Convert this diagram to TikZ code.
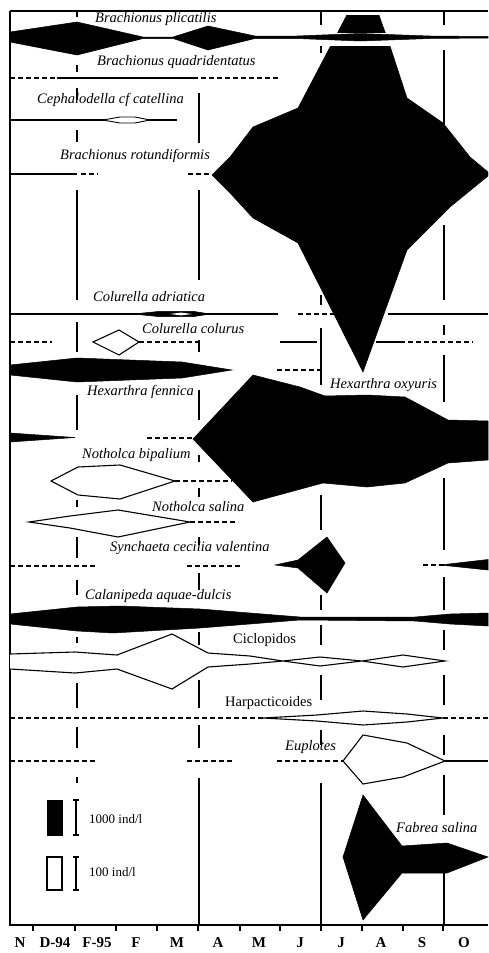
\documentclass[tikz,border=0pt]{standalone}
\usepackage{fontspec}
\setmainfont{Liberation Serif}
\begin{document}
\begin{tikzpicture}[x=1pt,y=-1pt,
  lbl/.style={font=\fontsize{14.5}{16}\selectfont\itshape, inner sep=0pt, anchor=west},
  ulbl/.style={font=\fontsize{14.5}{16}\selectfont, inner sep=0pt, anchor=west},
  leg/.style={font=\fontsize{13}{15}\selectfont, inner sep=0pt, anchor=west},
  mon/.style={font=\fontsize{15}{17}\selectfont\bfseries, inner sep=0pt},
  ln/.style={line width=1.2pt},
  dsh/.style={line width=1.2pt, dash pattern=on 5pt off 3pt},
  blk/.style={fill=black, draw=black, line width=0.5pt},
  wht/.style={fill=white, draw=black, line width=1.1pt, line join=miter},
  vseg/.style={line width=1.3pt}]
\useasboundingbox (0,0) rectangle (488,953);
\fill[white] (0,0) rectangle (488,953);

% axes and top border
\draw[ln] (10,11) -- (488,11);
\draw[ln] (10,11) -- (10,925) -- (488,925);
\foreach \x in {33,75,116,157,198,240,280,321,362,403,443}
  \draw[ln] (\x,925) -- (\x,931);

% month labels
\foreach \x/\m [count=\i] in {20/N,55/D-94,97/F-95,136/F,177/M,218/A,259/M,300/J,341/J,381/A,422/S,464/O}
  \node[mon] (m\i) at (\x,943) {\m};

% vertical broken month separators
\foreach \a/\b in {11/17,65/72,88/100,130/142,190/300,322/352,395/430,500/507,537/558,580/595,637/643,683/708,727/748,777/783}
  \draw[vseg] (77,\a) -- (77,\b);
\foreach \a/\b in {93/143,190/280,340/352,390/420,455/462,488/497,537/545,573/590,632/645,680/708,725/748,778/925}
  \draw[vseg] (199,\a) -- (199,\b);
\foreach \a/\b in {12/25,40/53,295/305,328/385,495/530,595/610,625/645,675/700,730/745,783/925}
  \draw[vseg] (321,\a) -- (321,\b);
\foreach \a/\b in {12/25,50/130,225/300,325/335,355/402,478/550,577/610,630/650,675/705,735/755,775/815,870/925}
  \draw[vseg] (444,\a) -- (444,\b);

% Brachionus rotundiformis (big shape), clipped at top
\begin{scope}
  \clip (0,15) rectangle (488,953);
  \fill[blk] (212,175) -- (230,157) -- (253,127) -- (298,108) -- (360,-10) -- (370,-10)
    -- (390,46) -- (407,98) -- (443,123) -- (470,157) -- (488,172) -- (488,176)
    -- (450,207) -- (407,250) -- (363,372) -- (298,243) -- (253,218) -- (230,193) -- cycle;
\end{scope}
\fill[white] (320,33) rectangle (400,46);

% Brachionus plicatilis
\fill[blk] (10,32) -- (77,22) -- (143,37) -- (173,37) -- (208,26) -- (255,36) -- (297,36)
  -- (360,33.5) -- (430,36) -- (488,36.5) -- (488,38) -- (430,38.5) -- (360,41) -- (297,38.5)
  -- (255,38.5) -- (208,50) -- (173,38.5) -- (143,38.5) -- (77,55) -- (10,42) -- cycle;
\node[lbl] (plic) at (95,19) {Brachionus plicatilis};

% Brachionus quadridentatus
\draw[dsh] (10,78) -- (57,78);
\draw[ln] (57,78) -- (193,78);
\draw[dsh] (193,78) -- (280,78);
\node[lbl] (quad) at (97,62) {Brachionus quadridentatus};

% Cephalodella cf catellina
\draw[ln] (10,120) -- (177,120);
\draw[wht, line width=0.9pt] (103,120) -- (120,117) -- (135,117) -- (150,120) -- (135,123) -- (120,123) -- cycle;
\node[lbl] (ceph) at (37,100) {Cephalodella cf catellina};

% Brachionus rotundiformis baseline
\draw[ln] (10,174) -- (77,174);
\draw[dsh] (81,174) -- (98,174);
\draw[dsh] (188,174) -- (212,174);
\node[lbl] (rotu) at (60,156) {Brachionus rotundiformis};

% Colurella adriatica
\draw[ln] (10,314) -- (278,314);
\draw[dsh] (298,314) -- (334,314);
\draw[ln] (388,314) -- (488,314);
\fill[blk] (133,314) -- (160,311.3) -- (193,311.3) -- (210,314) -- (193,316.7) -- (160,316.7) -- cycle;
\fill[white] (170,314) -- (181,312.6) -- (192,314) -- (181,315.4) -- cycle;
\node[lbl] (cadr) at (93,297) {Colurella adriatica};

% Colurella colurus
\draw[dsh] (10,342) -- (52,342);
\draw[dsh] (139,342) -- (200,342);
\draw[wht] (93,342) -- (119,330) -- (139,342) -- (119,355) -- cycle;
\draw[ln] (280,342) -- (317,342);
\draw[ln] (376,342) -- (400,342);
\draw[dsh] (400,342) -- (473,342);
\node[lbl] (ccol) at (142,329) {Colurella colurus};

% Hexarthra fennica
\fill[blk] (10,365) -- (77,358) -- (182,362) -- (232,370) -- (182,378) -- (77,382) -- (10,375) -- cycle;
\draw[dsh] (277,370) -- (322,370);
\node[lbl] (hfen) at (87,392) {Hexarthra fennica};

% Hexarthra oxyuris
\fill[blk] (10,433) -- (75,437.5) -- (10,442) -- cycle;
\draw[dsh] (147,438) -- (193,438);
\fill[blk] (193,439) -- (253,375) -- (300,387) -- (325,396) -- (367,395) -- (405,397) -- (448,420)
  -- (488,421) -- (488,460) -- (448,463) -- (405,483) -- (367,487) -- (323,483) -- (253,502) -- cycle;
\node[lbl] (hoxy) at (330,385) {Hexarthra oxyuris};

% Notholca bipalium
\draw[dsh] (175,481) -- (232,481);
\draw[wht] (51,481) -- (78,467) -- (120,465) -- (175,481) -- (120,499) -- (78,495) -- cycle;
\node[lbl] (nbip) at (82,455) {Notholca bipalium};

% Notholca salina
\draw[dsh] (190,522) -- (238,522);
\draw[wht] (29,522) -- (70,516) -- (118,510) -- (190,522) -- (118,537) -- (70,528) -- cycle;
\node[lbl] (nsal) at (152,507) {Notholca salina};

% Synchaeta cecilia valentina
\draw[dsh] (10,566) -- (97,566);
\draw[dsh] (187,566) -- (240,566);
\fill[blk] (275,565) -- (298,560) -- (327,537) -- (345,563) -- (327,593) -- (298,568) -- cycle;
\draw[dsh] (423,565) -- (450,565);
\fill[blk] (440,565) -- (488,559.5) -- (488,570) -- cycle;
\node[lbl] (sync) at (110,548) {Synchaeta cecilia valentina};

% Calanipeda aquae-dulcis
\fill[blk] (10,614) -- (77,607) -- (120,606) -- (200,609) -- (250,613) -- (300,617) -- (415,617)
  -- (450,614) -- (488,613) -- (488,626) -- (450,624) -- (415,621) -- (300,620) -- (250,624)
  -- (200,628) -- (113,633) -- (77,631) -- (10,624) -- cycle;
\node[lbl] (cala) at (85,596) {Calanipeda aquae-dulcis};

% Ciclopidos
\draw[wht] (10,654) -- (75,652) -- (117,655) -- (172,634) -- (208,653) -- (250,656) -- (283,661)
  -- (320,657) -- (362,661) -- (403,655) -- (445,661) -- (403,667) -- (362,661) -- (320,666)
  -- (283,661) -- (250,664) -- (208,667) -- (172,689) -- (117,669) -- (75,673) -- (10,669);
\node[ulbl] (cicl) at (233,640) {Ciclopidos};

% Harpacticoides
\draw[dsh] (10,718) -- (263,718);
\draw[dsh] (443,718) -- (488,718);
\draw[wht] (263,718) -- (317,715) -- (363,711) -- (407,714) -- (443,718) -- (407,722) -- (363,725) -- (317,721) -- cycle;
\node[ulbl] (harp) at (225,703) {Harpacticoides};

% Euplotes
\draw[dsh] (10,761) -- (97,761);
\draw[dsh] (187,761) -- (233,761);
\draw[dsh] (277,761) -- (343,761);
\draw[ln] (445,761) -- (488,761);
\draw[wht] (343,761) -- (363,735) -- (407,743) -- (445,761) -- (403,777) -- (363,784) -- cycle;
\node[lbl] (eupl) at (285,747) {Euplotes};

% Fabrea salina
\fill[blk] (343,857) -- (363,795) -- (402,846) -- (447,843) -- (488,857) -- (447,873) -- (402,873) -- (363,920) -- cycle;
\node[lbl] (fabr) at (396,828) {Fabrea salina};

% legend
\fill[blk] (47,800) rectangle (62,835);
\draw[ln] (76,800) -- (76,835) (73,800) -- (79,800) (73,835) -- (79,835);
\node[leg] (l1) at (89,819) {1000 ind/l};
\draw[wht] (47,857) rectangle (62,890);
\draw[ln] (76,857) -- (76,890) (73,857) -- (79,857) (73,890) -- (79,890);
\node[leg] (l2) at (89,872) {100 ind/l};
\end{tikzpicture}
\end{document}
